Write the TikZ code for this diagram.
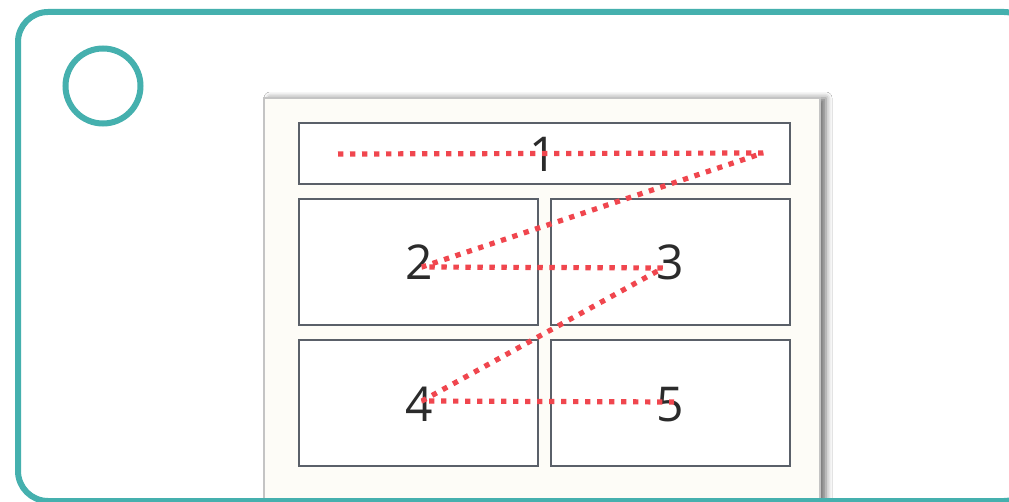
\documentclass[tikz,border=0pt]{standalone}
\usepackage{fontspec}
\setmainfont{Open Sans}
\usetikzlibrary{shadows.blur}
\definecolor{tealline}{RGB}{69,176,174}
\definecolor{paperfill}{RGB}{253,252,247}
\definecolor{paperedge}{RGB}{196,196,196}
\definecolor{boxedge}{RGB}{90,96,105}
\definecolor{redpath}{RGB}{240,70,78}
\definecolor{digit}{RGB}{43,43,43}
\tikzset{
  frame/.style={draw=tealline, line width=6pt},
  paper/.style={fill=paperfill, draw=paperedge, line width=2pt,
    blur shadow={shadow xshift=6pt, shadow yshift=0pt, shadow blur radius=6pt, shadow opacity=55}},
  cell/.style={draw=boxedge, fill=white, line width=2.6pt},
  num/.style={font=\fontsize{48}{48}\selectfont, text=digit, anchor=base, inner sep=0pt},
  order/.style={draw=redpath, line width=5.2pt, line join=bevel, dash pattern=on 5.3pt off 6.7pt}
}
\begin{document}
\begin{tikzpicture}[x=1pt,y=-1pt]
\useasboundingbox (0,0) rectangle (1009,502);
\fill[white] (0,0) rectangle (1009,502);
\begin{scope}
\clip (0,0) rectangle (1009,502);
% paper
\draw[paper] (264,98) rectangle (820,530);
% cells
\draw[cell] (299,123) rectangle (790,184);
\draw[cell] (299,199) rectangle (538,325);
\draw[cell] (551,199) rectangle (790,325);
\draw[cell] (299,340) rectangle (538,466);
\draw[cell] (551,340) rectangle (790,466);
% numbers
\node[num] (n1) at (543,172) {1};
\node[num] (n2) at (419,280) {2};
\node[num] (n3) at (670,280) {3};
\node[num] (n4) at (419,421) {4};
\node[num] (n5) at (670,421) {5};
% reading order path
\coordinate (p0) at (338,154);
\coordinate (p1) at (763,153);
\coordinate (p2) at (422,267);
\coordinate (p3) at (663,268);
\coordinate (p4) at (422,401);
\coordinate (p5) at (674,402);
\draw[order] (p0) -- (p1) -- (p2) -- (p3) -- (p4) -- (p5);
% outer frame and circle
\draw[frame, rounded corners=30pt] (18,12) rectangle (1034,501);
\node[frame, circle, minimum size=75pt, inner sep=0pt] (dot) at (103,86) {};
\end{scope}
\end{tikzpicture}
\end{document}
